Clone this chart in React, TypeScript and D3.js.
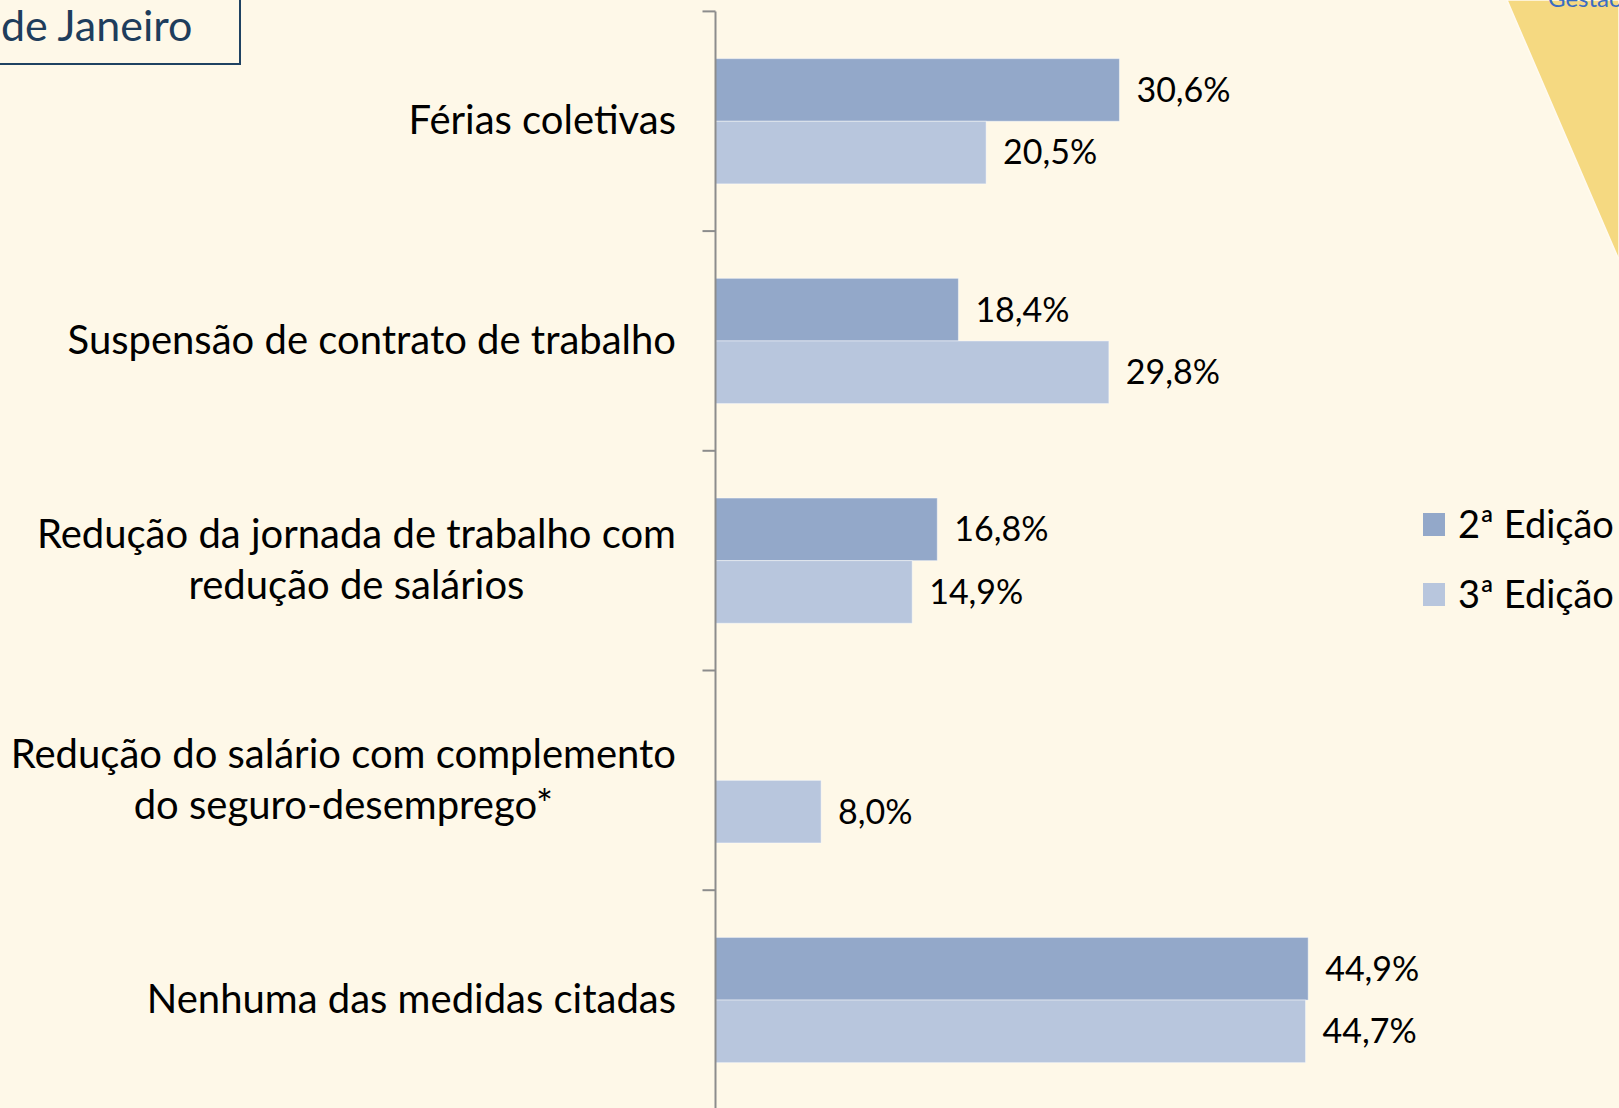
import React from 'react';
import * as d3 from 'd3';

// categories (top to bottom), each label split into lines
const categories = [
  'Férias coletivas',
  'Suspensão de contrato de trabalho',
  'Redução da jornada de trabalho com|redução de salários',
  'Redução do salário com complemento|do seguro-desemprego*',
  'Nenhuma das medidas citadas',
];

const seriesNames = ['2ª Edição', '3ª Edição'];
// percentages; null = not asked in that edition
const edicao2 = [30.6, 18.4, 16.8, null, 44.9];
const edicao3 = [20.5, 29.8, 14.9, 8.0, 44.7];
const seriesColors = ['#93a8c9', '#b8c6dd'];

function App() {
  const svgRef = React.useRef(null);

  const width = 1619;
  const height = 1108;
  const axisX = 715.5;
  const bandTop = 11.4;
  const bandStep = 219.7;

  React.useEffect(() => {
    const svg = d3.select(svgRef.current);
    svg.selectAll('*').remove();

    const font = 'Lato, "Open Sans", sans-serif';

    // background
    svg.append('rect').attr('width', width).attr('height', height).attr('fill', '#fef8e8');

    // yellow decoration top right
    svg.append('path')
      .attr('d', `M1507,0 L${width},0 L${width},260 Z`)
      .attr('fill', '#f5d981')
      .attr('stroke', '#fffaf0')
      .attr('stroke-width', 1.5);
    svg.append('text')
      .attr('x', 1548).attr('y', 7)
      .attr('font-family', font).attr('font-size', 24)
      .attr('fill', '#3a6cc2')
      .text('Gestão');

    // title box top left (cut by page edge)
    svg.append('rect')
      .attr('x', -20).attr('y', -20).attr('width', 260).attr('height', 84)
      .attr('fill', 'none').attr('stroke', '#1f4262').attr('stroke-width', 2);
    svg.append('text')
      .attr('x', 1).attr('y', 41)
      .attr('font-family', font).attr('font-size', 43)
      .attr('fill', '#1e3d5c')
      .text('de Janeiro');

    const yScale = d3.scaleBand()
      .domain(categories)
      .range([bandTop, bandTop + bandStep * categories.length]);

    const groupH = yScale.bandwidth() * 0.57;
    const ySub = d3.scaleBand()
      .domain(seriesNames)
      .range([(yScale.bandwidth() - groupH) / 2, (yScale.bandwidth() + groupH) / 2]);

    const xScale = d3.scaleLinear().domain([0, 50]).range([axisX, axisX + 660]);

    const rows = categories.map((c, i) => ({ cat: c, values: [edicao2[i], edicao3[i]] }));

    const groups = svg.selectAll('g.cat')
      .data(rows)
      .enter()
      .append('g')
      .attr('class', 'cat')
      .attr('transform', (d) => `translate(0,${yScale(d.cat)})`);

    const bars = groups.selectAll('g.bar')
      .data((d) => d.values.map((v, j) => ({ v, s: seriesNames[j], j })).filter((b) => b.v !== null))
      .enter()
      .append('g')
      .attr('class', 'bar');

    bars.append('rect')
      .attr('x', axisX)
      .attr('y', (b) => ySub(b.s))
      .attr('width', (b) => xScale(b.v) - axisX)
      .attr('height', ySub.bandwidth())
      .attr('fill', (b) => seriesColors[b.j])
      .attr('stroke', 'rgba(255,255,255,0.45)')
      .attr('stroke-width', 1);

    bars.append('text')
      .attr('x', (b) => xScale(b.v) + 17)
      .attr('y', (b) => ySub(b.s) + ySub.bandwidth() / 2)
      .attr('dy', '0.35em')
      .attr('font-family', font).attr('font-size', 34)
      .attr('fill', '#000')
      .text((b) => b.v.toFixed(1).replace('.', ',') + '%');

    // category labels: block right aligned, lines centred within block
    groups.each(function (d) {
      const g = d3.select(this);
      const lines = d.cat.split('|');
      const lineH = 51;
      const t = g.append('text')
        .attr('font-family', font).attr('font-size', 40)
        .attr('fill', '#000')
        .attr('text-anchor', 'middle');
      lines.forEach((ln, k) => {
        t.append('tspan')
          .attr('x', 0)
          .attr('y', yScale.bandwidth() / 2 + (k - (lines.length - 1) / 2) * lineH)
          .attr('dy', '0.32em')
          .text(ln);
      });
      const w = t.node().getBBox().width;
      t.selectAll('tspan').attr('x', 676 - w / 2);
    });

    // y axis with ticks at band boundaries
    const axis = svg.append('g');
    axis.append('line')
      .attr('x1', axisX).attr('x2', axisX)
      .attr('y1', bandTop).attr('y2', height + 10)
      .attr('stroke', '#8c8c8c').attr('stroke-width', 2);
    const tickYs = categories.map((c) => yScale(c)).concat([yScale.range()[1]]);
    axis.selectAll('line.tick')
      .data(tickYs)
      .enter()
      .append('line')
      .attr('class', 'tick')
      .attr('x1', axisX - 13).attr('x2', axisX)
      .attr('y1', (y) => y).attr('y2', (y) => y)
      .attr('stroke', '#8c8c8c').attr('stroke-width', 2);

    // legend
    const legend = svg.append('g')
      .attr('transform', 'translate(1423,513)');
    const items = legend.selectAll('g')
      .data(seriesNames)
      .enter()
      .append('g')
      .attr('transform', (d, i) => `translate(0,${i * 70})`);
    items.append('rect')
      .attr('width', 22).attr('height', 23)
      .attr('fill', (d, i) => seriesColors[i]);
    items.append('text')
      .attr('x', 35).attr('y', 12)
      .attr('dy', '0.35em')
      .attr('font-family', font).attr('font-size', 38)
      .attr('fill', '#000')
      .text((d) => d);
  }, []);

  return (
    <svg
      ref={svgRef}
      width={width}
      height={height}
      style={{ position: 'absolute', left: 0, top: 0, display: 'block' }}
    />
  );
}

export default App;
